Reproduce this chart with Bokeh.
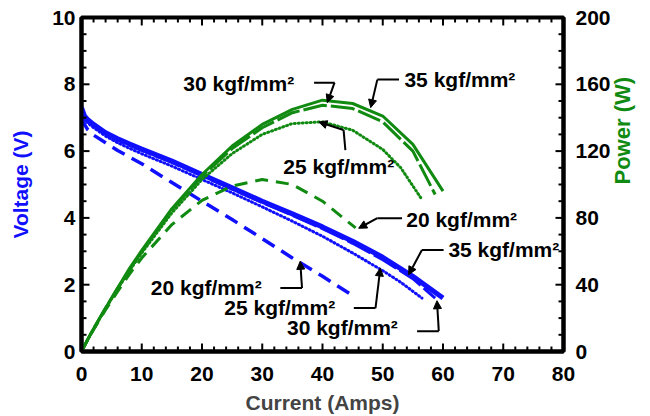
import math
from bokeh.plotting import figure
from bokeh.models import (Range1d, LinearAxis, SingleIntervalTicker, Label, Arrow,
                          NormalHead, ColumnDataSource)
from bokeh.embed import file_html
from bokeh.resources import INLINE

# ---------------- data ----------------
# 35 kgf/mm2 (solid)
I_35 = [0, 0.5, 1, 2, 4, 6, 8, 10, 15, 20, 25, 30, 35, 40, 45, 50, 55, 60]
V_35 = [7.3, 7.05, 6.95, 6.8, 6.55, 6.37, 6.21, 6.06, 5.7, 5.3, 4.9, 4.5, 4.12, 3.73, 3.3, 2.82, 2.25, 1.6]
P_35 = [0, 3.5, 7, 13.6, 26, 38, 50, 60.5, 85.5, 106, 123, 136, 145, 150.5, 148.5, 141, 124, 96]

# 30 kgf/mm2 (long dash)
I_30 = [0, 0.5, 1, 2, 4, 6, 8, 10, 15, 20, 25, 30, 35, 40, 45, 50, 55, 58.7]
V_30 = [7.25, 7.0, 6.9, 6.76, 6.52, 6.33, 6.17, 6.02, 5.66, 5.26, 4.86, 4.46, 4.08, 3.68, 3.24, 2.75, 2.18, 1.6]
P_30 = [0, 3.5, 6.9, 13.5, 26, 38, 49, 60, 85, 105, 121.5, 134, 143, 147.5, 145.5, 137.5, 120, 94]

# 25 kgf/mm2 (dotted)
I_25 = [0, 0.5, 1, 2, 4, 6, 8, 10, 15, 20, 25, 30, 35, 40, 45, 50, 53, 56.5]
V_25 = [7.2, 6.95, 6.85, 6.7, 6.45, 6.25, 6.08, 5.92, 5.55, 5.15, 4.75, 4.33, 3.9, 3.45, 2.95, 2.42, 2.07, 1.6]
P_25 = [0, 3.5, 6.8, 13.4, 25.8, 37.5, 48.6, 59, 83, 103, 118.5, 130, 136.5, 137.5, 132.5, 121, 110, 91]

# 20 kgf/mm2 (dashed)
I_20 = [0, 0.5, 1, 2, 4, 6, 8, 10, 15, 20, 25, 30, 35, 40, 45.5]
V_20 = [7.0, 6.8, 6.65, 6.48, 6.25, 6.02, 5.82, 5.62, 5.06, 4.5, 3.95, 3.38, 2.8, 2.25, 1.62]
P_20 = [0, 3.4, 6.7, 13, 25, 36, 46.5, 56, 76, 90.5, 99, 103, 100, 90, 74]

# tick positions (drawn inside the frame on all four edges)
X_MAJOR = list(range(0, 81, 10))
X_MINOR = [v for v in range(0, 81, 2) if v % 10 != 0]
V_MAJOR = [0, 2, 4, 6, 8, 10]
V_MINOR = [v / 2 for v in range(0, 21) if v % 4 != 0]
P_MAJOR = [0, 40, 80, 120, 160, 200]
P_MINOR = [v for v in range(0, 201, 10) if v % 40 != 0]

# annotation texts and positions (data units: current, voltage)
label_text = ["30 kgf/mm²", "35 kgf/mm²", "25 kgf/mm²", "20 kgf/mm²",
              "35 kgf/mm²", "20 kgf/mm²", "25 kgf/mm²", "30 kgf/mm²"]
label_x = [16.9, 53.6, 33.5, 53.9, 60.9, 11.5, 23.7, 34.1]
label_y = [8.03, 8.13, 5.55, 3.95, 3.05, 1.91, 1.31, 0.72]

# leader lines: start -> corner -> arrow tip
lead_x0 = [38.6, 52.7, 43.8, 53.2, 60.1, 33.0, 45.2, 55.7]
lead_y0 = [8.05, 8.14, 6.03, 3.99, 3.04, 1.90, 1.30, 0.61]
lead_x1 = [42.0, 49.1, 43.5, 49.1, 56.5, 36.6, 48.8, 59.3]
lead_y1 = [8.05, 8.14, 6.63, 3.99, 3.04, 1.90, 1.30, 0.61]
lead_x2 = [40.8, 48.0, 39.4, 46.0, 54.3, 36.3, 49.6, 59.0]
lead_y2 = [7.45, 7.30, 6.87, 3.69, 2.30, 2.70, 2.50, 1.52]

BLUE = "#1010ff"
GREEN = "#108a10"
FONT = "Liberation Sans"

W, H = 650, 416
BL, BR, BT, BB = 81, 87, 17, 64
p = figure(width=W, height=H, x_range=Range1d(0, 80), y_range=Range1d(0, 10),
           output_backend="svg", toolbar_location=None,
           min_border_left=BL, min_border_right=BR, min_border_top=BT, min_border_bottom=BB)
p.extra_y_ranges = {"power": Range1d(0, 200)}
p.grid.visible = False
p.outline_line_color = "black"
p.outline_line_width = 4
p.background_fill_color = None
p.border_fill_color = None


def style_axis(ax):
    ax.axis_line_width = 4
    ax.axis_line_color = "black"
    ax.major_tick_in = 0
    ax.major_tick_out = 0
    ax.minor_tick_in = 0
    ax.minor_tick_out = 0
    ax.major_tick_line_color = None
    ax.minor_tick_line_color = None
    ax.major_label_text_font = FONT
    ax.major_label_text_font_style = "bold"
    ax.major_label_text_font_size = "21px"
    ax.major_label_text_color = "black"
    ax.axis_label_text_font = FONT
    ax.axis_label_text_font_style = "bold"
    ax.axis_label_text_font_size = "21px"


p.xaxis.ticker = SingleIntervalTicker(interval=10, num_minor_ticks=5)
p.xaxis.axis_label = "Current (Amps)"
p.xaxis.major_label_standoff = 15
p.xaxis.axis_label_standoff = 7
style_axis(p.xaxis[0])

p.yaxis.ticker = SingleIntervalTicker(interval=2, num_minor_ticks=4)
p.yaxis.axis_label = "Voltage (V)"
p.yaxis.major_label_standoff = 6
p.yaxis.axis_label_standoff = 17
style_axis(p.yaxis[0])
p.yaxis.axis_label_text_color = BLUE

right = LinearAxis(y_range_name="power",
                   ticker=SingleIntervalTicker(interval=40, num_minor_ticks=4))
style_axis(right)
right.major_label_standoff = 12
right.axis_label = "Power (W)"
right.axis_label_standoff = 9
right.axis_label_text_color = GREEN
right.axis_label_text_font_size = "22px"
if "axis_label_orientation" in LinearAxis.properties():
    right.axis_label_orientation = math.pi / 2
p.add_layout(right, "right")

# inward tick marks on the four frame edges (tick lengths in pixels -> data units)
fw, fh = W - BL - BR, H - BT - BB
dx_maj, dx_min = 8 * 80 / fw, 5 * 80 / fw
dy_maj, dy_min = 8 * 10 / fh, 5 * 10 / fh
TK = dict(color="black", line_width=2, level="overlay")
p.segment(X_MAJOR, [0] * len(X_MAJOR), X_MAJOR, [dy_maj] * len(X_MAJOR), **TK)
p.segment(X_MINOR, [0] * len(X_MINOR), X_MINOR, [dy_min] * len(X_MINOR), **TK)
p.segment(X_MAJOR, [10] * len(X_MAJOR), X_MAJOR, [10 - dy_maj] * len(X_MAJOR), **TK)
p.segment(X_MINOR, [10] * len(X_MINOR), X_MINOR, [10 - dy_min] * len(X_MINOR), **TK)
p.segment([0] * len(V_MAJOR), V_MAJOR, [dx_maj] * len(V_MAJOR), V_MAJOR, **TK)
p.segment([0] * len(V_MINOR), V_MINOR, [dx_min] * len(V_MINOR), V_MINOR, **TK)
p.segment([80] * len(P_MAJOR), P_MAJOR, [80 - dx_maj] * len(P_MAJOR), P_MAJOR,
          y_range_name="power", **TK)
p.segment([80] * len(P_MINOR), P_MINOR, [80 - dx_min] * len(P_MINOR), P_MINOR,
          y_range_name="power", **TK)

# voltage curves (blue)
p.line(I_20, V_20, color=BLUE, line_width=3.5, line_dash="14 8")
p.line(I_25, V_25, color=BLUE, line_width=3, line_dash="1 3", line_cap="round")
p.line(I_35, V_35, color=BLUE, line_width=5)
p.line(I_30, V_30, color=BLUE, line_width=3, line_dash="26 4")

# power curves (green)
p.line(I_20, P_20, color=GREEN, line_width=3, line_dash="13 8", y_range_name="power")
p.line(I_25, P_25, color=GREEN, line_width=3, line_dash="1 3", line_cap="round",
       y_range_name="power")
p.line(I_35, P_35, color=GREEN, line_width=3, y_range_name="power")
p.line(I_30, P_30, color=GREEN, line_width=3, line_dash="24 4", y_range_name="power")

# leader lines
p.multi_line([[a, b] for a, b in zip(lead_x0, lead_x1)],
             [[a, b] for a, b in zip(lead_y0, lead_y1)],
             color="black", line_width=2)
arr_src = ColumnDataSource(dict(x0=lead_x1, y0=lead_y1, x1=lead_x2, y1=lead_y2))
p.add_layout(Arrow(source=arr_src, x_start="x0", y_start="y0", x_end="x1", y_end="y1",
                   line_width=2, line_color="black",
                   end=NormalHead(size=8, fill_color="black", line_color="black", line_width=1)))

for t, x, y in zip(label_text, label_x, label_y):
    p.add_layout(Label(x=x, y=y, text=t, text_font=FONT, text_font_style="bold",
                       text_font_size="21px", text_color="black",
                       text_align="left", text_baseline="alphabetic"))

open("out.html", "w").write(file_html(p, INLINE))
